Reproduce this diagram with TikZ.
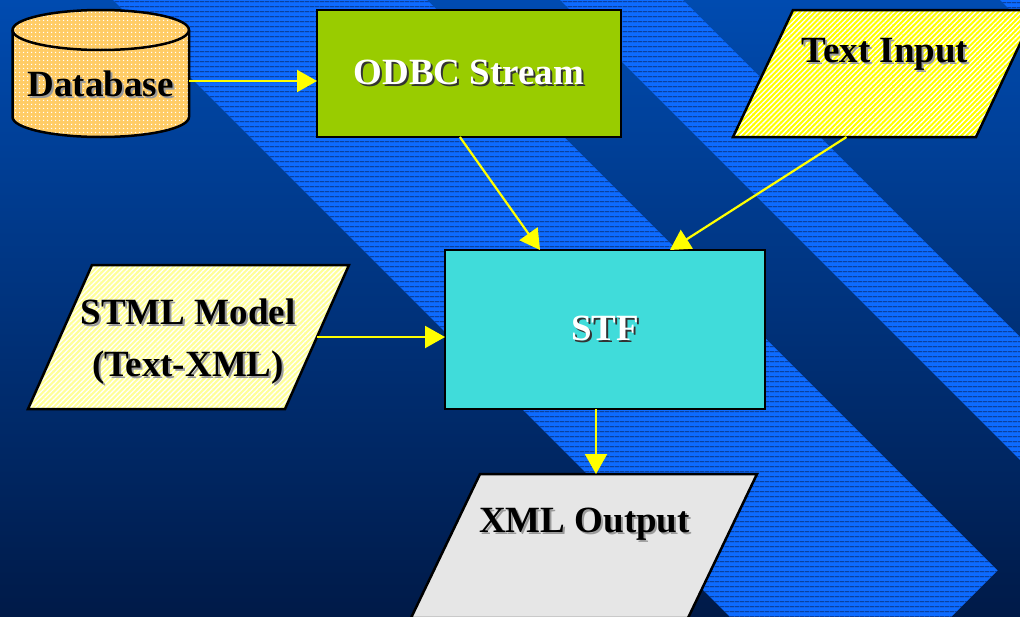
\documentclass[tikz,border=0pt]{standalone}
\usepackage{fontspec}
\setmainfont{Liberation Serif}
\usetikzlibrary{arrows.meta,calc,patterns.meta}

\definecolor{bgtop}{HTML}{004BB0}
\definecolor{bgmid}{HTML}{003A8F}
\definecolor{bgbot}{HTML}{001A48}
\definecolor{bandblue}{HTML}{0D6BFF}
\definecolor{bandline}{HTML}{0B2B6C}
\definecolor{odbcgreen}{HTML}{99CC00}
\definecolor{stfedge}{HTML}{40DCDA}
\definecolor{stfmid}{HTML}{00C9CC}
\definecolor{dbfill}{HTML}{FFCC66}
\definecolor{tiyellow}{HTML}{FFFF00}
\definecolor{stmlyellow}{HTML}{FFFF99}
\definecolor{xmlgray}{HTML}{E6E6E6}
\definecolor{arrowyellow}{HTML}{FFFF00}
\definecolor{shadowgray}{HTML}{9A9A9A}
\definecolor{shadowdark}{HTML}{333333}

% text with a small drop shadow: #1 shadow colour, #2 text colour, #3 text
\newcommand\castshadow[3]{\makebox[0pt][l]{\hspace*{2pt}\raisebox{-2pt}{\textcolor{#1}{#3}}}\textcolor{#2}{#3}}
\newcommand\txtdark[1]{\castshadow{shadowgray}{black}{#1}}
\newcommand\txtlight[1]{\castshadow{shadowdark}{white}{#1}}
% parallelogram leaning right, built on the corners of a named box node
\newcommand\pgrampath[2]{($(#1.north west)+(#2,0)$) -- ($(#1.north east)+(#2,0)$) -- ($(#1.south east)+(-#2,0)$) -- ($(#1.south west)+(-#2,0)$) -- cycle}

\tikzset{
  blackedge/.style={draw=black, line width=2.5pt},
  anchorbox/.style={inner sep=0pt, outer sep=0pt, draw=none},
  captionfont/.style={font=\fontsize{37}{52}\selectfont\bfseries},
  boxnode/.style={blackedge, inner sep=0pt, outer sep=0pt, captionfont},
  caption/.style={inner sep=0pt, captionfont, align=center},
  flow/.style={draw=arrowyellow, line width=2.2pt, -{Triangle[length=20pt,width=22pt]}},
  band/.style={preaction={fill=bandblue}, pattern={Lines[angle=0,distance=4.67pt,line width=0.9pt]}, pattern color=bandline},
}

\begin{document}
\begin{tikzpicture}[x=1pt, y=-1pt, line join=miter]
  \useasboundingbox (0,0) rectangle (1020,616);
  \clip (0,0) rectangle (1020,616);

  % backdrop
  \shade[top color=bgtop, middle color=bgmid, bottom color=bgbot] (0,0) rectangle (1020,616);
  \path[band] (103,-10) -- (417,-10) -- (997.5,570.5) -- (934,634) -- (747,634) -- cycle;
  \path[band] (550,-10) -- (673,-10) -- (1030,347) -- (1030,470) -- cycle;
  \path[band] (990,-10) -- (1030,-10) -- (1030,30) -- cycle;

  % database cylinder
  \node[anchorbox, minimum width=176.5pt, minimum height=127pt] (db) at (100.75,73.5) {};
  \path[blackedge, preaction={fill=dbfill}, pattern={Dots[distance=4pt,radius=0.9pt]}, pattern color=white]
    (12.5,30) -- (12.5,117) arc[start angle=180, end angle=360, x radius=88.25pt, y radius=20pt]
    -- (189,30) arc[start angle=0, end angle=180, x radius=88.25pt, y radius=20pt] -- cycle;
  \draw[blackedge] (12.5,30) arc[start angle=180, end angle=360, x radius=88.25pt, y radius=20pt];
  \node[caption, anchor=base] (dbtext) at (100.5,96) {\txtdark{Database}};

  % rectangles
  \node[boxnode, fill=odbcgreen, minimum width=304pt, minimum height=127pt] (odbc) at (469,73.5) {\txtlight{ODBC Stream}};
  \node[boxnode, top color=stfedge, middle color=stfmid, bottom color=stfedge, minimum width=320pt, minimum height=159pt] (stf) at (605,329.5) {\txtlight{STF}};

  % parallelograms
  \node[anchorbox, minimum width=243pt, minimum height=127pt] (ti) at (884.5,73.5) {};
  \path[blackedge, preaction={fill=tiyellow}, pattern={Lines[angle=45,distance=3.6pt,line width=1.3pt]}, pattern color=white] \pgrampath{ti}{30};
  \node[caption, anchor=base] (titext) at (885,62) {\txtdark{Text Input}};

  \node[anchorbox, minimum width=257pt, minimum height=144pt] (stml) at (188.5,337) {};
  \path[blackedge, preaction={fill=stmlyellow}, pattern={Lines[angle=45,distance=3.6pt,line width=1.2pt]}, pattern color=white] \pgrampath{stml}{32};
  \node[caption, anchor=base] (stmltext) at (188,324) {\txtdark{STML Model}};
  \node[caption, anchor=base] (stmltext2) at (188,376) {\txtdark{(Text-XML)}};

  \node[anchorbox, minimum width=277pt, minimum height=144pt] (xml) at (584,546) {};
  \path[blackedge, fill=xmlgray] \pgrampath{xml}{34.5};
  \node[caption, anchor=base] (xmltext) at (584.5,532) {\txtdark{XML Output}};

  % connectors
  \draw[flow] ($(db.east)+(0,7.5)$) -- ($(odbc.west)+(0,7.5)$);
  \draw[flow] ($(odbc.south west)!0.47!(odbc.south east)$) -- ($(stf.north west)!0.297!(stf.north east)$);
  \draw[flow] ($(ti.south)+(-38,0)$) -- ($(stf.north west)!0.703!(stf.north east)$);
  \draw[flow] (stml.east) -- (stml.east -| stf.west);
  \draw[flow] ($(stf.south)+(-9,0)$) coordinate (stfout) -- (stfout |- xml.north);
\end{tikzpicture}
\end{document}
